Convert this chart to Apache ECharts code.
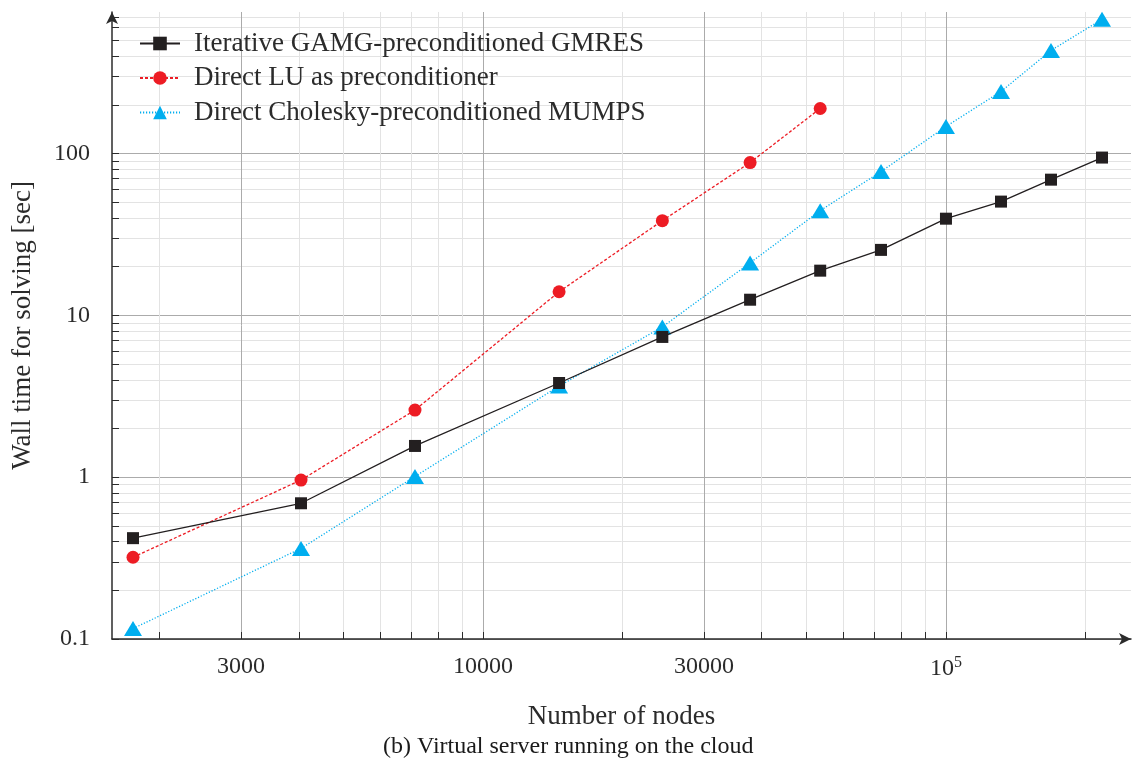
<!DOCTYPE html>
<html>
<head>
<meta charset="utf-8">
<script src="https://cdn.jsdelivr.net/npm/echarts@6/dist/echarts.min.js"></script>
<style>
  html, body { margin: 0; padding: 0; background: #fff; }
  #chart { width: 1132px; height: 766px; }
</style>
</head>
<body>
<div id="chart"></div>
<script>
// number of nodes per mesh
var nodes = [1754, 4045, 7130, 14600, 24400, 37750, 53500, 72400, 100000, 131500, 168600, 217300];
// wall time [sec]
var gmres = [0.42, 0.69, 1.56, 3.82, 7.36, 12.5, 18.9, 25.4, 39.6, 50.5, 69, 94.5];
var luPrec = [0.32, 0.96, 2.6, 14, 38.5, 88, 190];
var mumps = [0.116, 0.363, 1.01, 3.66, 8.49, 21.1, 44.4, 77.4, 147, 242, 434, 676];

var xMajor = [3000, 10000, 30000, 100000];
var xMinor = [2000, 4000, 5000, 6000, 7000, 8000, 9000, 20000, 40000, 50000, 60000, 70000, 80000, 90000, 200000];
var yMajor = [0.1, 1, 10, 100];
var yMinor = [0.2, 0.3, 0.4, 0.5, 0.6, 0.7, 0.8, 0.9, 2, 3, 4, 5, 6, 7, 8, 9,
  20, 30, 40, 50, 60, 70, 80, 90, 200, 300, 400, 500, 600, 700];

var font = '"Liberation Serif", serif';
var ink = '#2b2b2b';

function pairs(xs, ys) {
  return ys.map(function (y, i) { return [xs[i], y]; });
}

var chart = echarts.init(document.getElementById('chart'));

var xLimits = { min: 1580, max: 251000 };
var yLimits = { min: 0.1, max: 750 };

chart.setOption({
  animation: false,
  grid: { left: 112, right: 1, top: 12, bottom: 127 },
  legend: {
    left: 139, top: 30, orient: 'vertical', padding: 0,
    itemWidth: 40, itemHeight: 17, itemGap: 7.5,
    textStyle: { fontFamily: font, fontSize: 27, color: ink, padding: [0, 0, 0, 9] },
    data: ['Iterative GAMG-preconditioned GMRES', 'Direct LU as preconditioner', 'Direct Cholesky-preconditioned MUMPS']
  },
  xAxis: [{
    type: 'log', logBase: 10, min: xLimits.min, max: xLimits.max,
    name: 'Number of nodes', nameLocation: 'middle', nameGap: 64,
    nameTextStyle: { fontFamily: font, fontSize: 27, color: ink },
    axisLine: { lineStyle: { color: ink, width: 1.5 }, symbol: ['none', 'arrow'], symbolSize: [9, 12] },
    axisTick: { inside: true, length: 7, customValues: xMajor, lineStyle: { color: ink } },
    axisLabel: {
      customValues: xMajor, margin: 16, fontFamily: font, fontSize: 24, color: ink,
      formatter: function (v) { return v >= 100000 ? '{b|10}{s|5}' : String(Math.round(v)); },
      rich: { b: { fontFamily: font, fontSize: 24, color: ink }, s: { fontFamily: font, fontSize: 16, color: ink, verticalAlign: 'top', padding: [0, 0, 12, 0] } }
    },
    splitLine: { show: true, lineStyle: { color: '#ababab', width: 1 } }
  }, {
    type: 'log', logBase: 10, min: xLimits.min, max: xLimits.max, position: 'bottom',
    axisLine: { show: false },
    axisTick: { inside: true, length: 7, customValues: xMinor, lineStyle: { color: ink } },
    axisLabel: { show: false },
    splitLine: { show: true, lineStyle: { color: '#e3e3e3', width: 1 } }
  }],
  yAxis: [{
    type: 'log', logBase: 10, min: yLimits.min, max: yLimits.max,
    name: 'Wall time for solving [sec]', nameLocation: 'middle', nameGap: 76,
    nameTextStyle: { fontFamily: font, fontSize: 27, color: ink },
    axisLine: { lineStyle: { color: ink, width: 1.5 }, symbol: ['none', 'arrow'], symbolSize: [9, 12] },
    axisTick: { inside: true, length: 7, customValues: yMajor, lineStyle: { color: ink } },
    axisLabel: {
      customValues: yMajor, margin: 22, fontFamily: font, fontSize: 24, color: ink,
      formatter: function (v) { return String(v); }
    },
    splitLine: { show: true, lineStyle: { color: '#ababab', width: 1 } }
  }, {
    type: 'log', logBase: 10, min: yLimits.min, max: yLimits.max, position: 'left',
    axisLine: { show: false },
    axisTick: { inside: true, length: 7, customValues: yMinor, lineStyle: { color: ink } },
    axisLabel: { show: false },
    splitLine: { show: true, lineStyle: { color: '#e3e3e3', width: 1 } }
  }],
  graphic: [{
    type: 'text', left: 383, top: 735,
    style: { text: '(b) Virtual server running on the cloud', font: '24px "Liberation Serif", serif', fill: '#1a1a1a' }
  }],
  series: [{
    name: 'Iterative GAMG-preconditioned GMRES', type: 'line', z: 5,
    data: pairs(nodes, gmres),
    symbol: 'rect', symbolSize: 12,
    itemStyle: { color: '#231f20' },
    lineStyle: { color: '#231f20', width: 1.3 }
  }, {
    name: 'Direct LU as preconditioner', type: 'line', z: 4,
    data: pairs(nodes, luPrec),
    symbol: 'circle', symbolSize: 13,
    itemStyle: { color: '#ed1c24' },
    lineStyle: { color: '#ed1c24', width: 1.3, type: [3, 2] }
  }, {
    name: 'Direct Cholesky-preconditioned MUMPS', type: 'line', z: 3,
    data: pairs(nodes, mumps),
    symbol: 'triangle', symbolSize: [18, 15],
    itemStyle: { color: '#00aeef' },
    lineStyle: { color: '#00aeef', width: 1.3, type: [1.2, 1.8] }
  }]
});
</script>
</body>
</html>
